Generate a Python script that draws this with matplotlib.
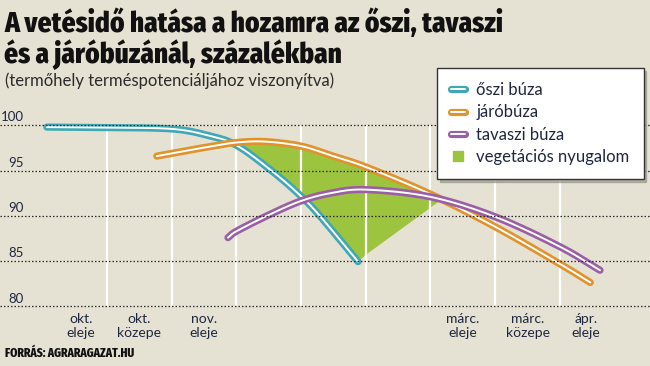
import numpy as np
import matplotlib.pyplot as plt
from matplotlib import font_manager
from matplotlib.lines import Line2D

# Adatok (x: a fehér rácsvonalak sorszáma, y: hozam %)
oszi_x = [-0.93, 0.0, 1.0, 1.55, 2.0, 2.55, 2.98, 3.29, 3.88]
oszi_y = [99.8, 99.75, 99.6, 98.9, 97.8, 94.95, 92.3, 90.0, 84.95]

jaro_x = [0.77, 1.0, 1.55, 2.0, 2.45, 3.0, 3.45, 4.0, 5.0, 6.0, 7.0, 7.47]
jaro_y = [96.6, 96.9, 97.6, 98.1, 98.2, 97.7, 96.7, 95.4, 92.4, 88.8, 84.7, 82.65]

tavaszi_x = [1.87, 2.0, 2.47, 2.98, 3.45, 4.0, 5.0, 6.0, 7.0, 7.62]
tavaszi_y = [87.6, 88.3, 90.0, 91.6, 92.5, 92.9, 92.1, 89.9, 86.6, 84.0]

nyugalom_csucs = (4.0, 85.7)

y_ticks = [80, 85, 90, 95, 100]
racs_x = [0, 1, 2, 3, 4, 5, 6, 7]
idopontok = ['okt.\neleje', 'okt.\nközepe', 'nov.\neleje',
             'márc.\neleje', 'márc.\nközepe', 'ápr.\neleje']
idopont_x = [-0.4, 0.5, 1.5, 5.5, 6.5, 7.4]

# Színek
hatter = '#e6e2d3'
c_oszi = '#3fa8b4'
c_jaro = '#e0922b'
c_tavaszi = '#9a5ea5'
c_zold = '#9cc43e'
szoveg = '#1f2740'

# keskeny, vastag betű a címhez (ha nincs, kisebb DejaVu)
elerheto = {f.name for f in font_manager.fontManager.ttflist}
if 'Fira Sans Extra Condensed' in elerheto:
    keskeny, cim_meret, forras_meret = 'Fira Sans Extra Condensed', 21.3, 9
else:
    keskeny, cim_meret, forras_meret = 'DejaVu Sans', 15.5, 6.5


def simit(xs, ys, n=24):
    # Catmull-Rom görbe a pontokon át
    pts = np.column_stack([xs, ys])
    p = np.vstack([2 * pts[0] - pts[1], pts, 2 * pts[-1] - pts[-2]])
    t = np.linspace(0, 1, n, endpoint=False)[:, None]
    out = []
    for i in range(1, len(p) - 2):
        p0, p1, p2, p3 = p[i - 1], p[i], p[i + 1], p[i + 2]
        out.append(0.5 * (2 * p1 + (-p0 + p2) * t
                          + (2 * p0 - 5 * p1 + 4 * p2 - p3) * t ** 2
                          + (-p0 + 3 * p1 - 3 * p2 + p3) * t ** 3))
    out.append(pts[-1:])
    s = np.vstack(out)
    return s[:, 0], s[:, 1]


def metszes(ax1, ay1, ax2, ay2, lo, hi):
    g = np.linspace(lo, hi, 400)
    d = np.interp(g, ax1, ay1) - np.interp(g, ax2, ay2)
    i = np.where(np.diff(np.sign(d)) != 0)[0][0]
    return g[i]


plt.rcParams['font.family'] = ['Lato', 'DejaVu Sans']

fig = plt.figure(figsize=(6.5, 3.66), dpi=100, facecolor=hatter)
ax = fig.add_axes([0, 0, 1, 1])
ax.set_facecolor(hatter)
ax.set_xlim(-1.654, 8.393)
ax.set_ylim(73.43, 113.83)
ax.axis('off')

ox, oy = simit(oszi_x, oszi_y)
jx, jy = simit(jaro_x, jaro_y)
tx, ty = simit(tavaszi_x, tavaszi_y)

# vegetációs nyugalom terület
x1 = metszes(ox, oy, jx, jy, 1.5, 2.6)
x2 = metszes(jx, jy, tx, ty, 4.5, 5.8)
m = (jx > x1) & (jx < x2)
felso = np.column_stack([np.r_[x1, jx[m], x2],
                         np.interp(np.r_[x1, jx[m], x2], jx, jy)])
mo = ox > x1
bal = np.column_stack([ox[mo], oy[mo]])[::-1]
poly = np.vstack([felso, [nyugalom_csucs], bal])
ax.fill(poly[:, 0], poly[:, 1], color=c_zold, lw=0, zorder=1)

ax.vlines(racs_x, 80, 100, color='white', lw=1.6, zorder=2)

for gx, gy, c in [(ox, oy, c_oszi), (jx, jy, c_jaro), (tx, ty, c_tavaszi)]:
    ax.plot(gx, gy, color=c, lw=5.2, solid_capstyle='round', zorder=3)
    ax.plot(gx, gy, color='white', lw=1.4, solid_capstyle='round', zorder=3)

for y in y_ticks:
    ax.axhline(y, color='#2a2a2a', lw=0.9, ls=(0, (1.2, 1.6)), zorder=4)
    ax.text(-1.283, y + 0.42, str(y), ha='right', va='baseline',
            fontsize=9.5, color=szoveg)

for x, lab in zip(idopont_x, idopontok):
    ax.text(x, 77.85, lab, ha='center', va='center', fontsize=10,
            color=szoveg, linespacing=1.2, multialignment='center')

# Cím
for sor, yb in [('A vetésidő hatása a hozamra az őszi, tavaszi', 32),
                ('és a járóbúzánál, százalékban', 63)]:
    fig.text(4 / 650, 1 - yb / 366, sor, fontsize=cim_meret,
             fontweight='heavy', color='#111111', va='baseline',
             family=[keskeny, 'DejaVu Sans'])
fig.text(5 / 650, 1 - 81 / 366, '(termőhely terméspotenciáljához viszonyítva)',
         fontsize=12, color='#2a2a2a', va='center')
fig.text(5 / 650, 1 - 353 / 366, 'FORRÁS: AGRARAGAZAT.HU',
         fontsize=forras_meret, fontweight='heavy', color='#111111',
         va='center', family=[keskeny, 'DejaVu Sans'])

# Jelmagyarázat
def kettos(c):
    return (Line2D([], [], color=c, lw=5.2, solid_capstyle='round'),
            Line2D([], [], color='white', lw=1.4, solid_capstyle='round'))


handles = [kettos(c_oszi), kettos(c_jaro), kettos(c_tavaszi),
           Line2D([], [], marker='s', color=c_zold, ls='none', markersize=7)]
labels = ['őszi búza', 'járóbúza', 'tavaszi búza', 'vegetációs nyugalom']
leg = fig.legend(handles, labels, loc='upper left',
                 bbox_to_anchor=(437 / 650, 1 - 68 / 366), borderaxespad=0,
                 fontsize=12, handlelength=0.8, handletextpad=0.7,
                 labelspacing=0.38, borderpad=0.85, fancybox=False,
                 framealpha=1, edgecolor='#333333', facecolor='white',
                 shadow={'color': '#9a978c', 'alpha': 0.7})
leg.get_frame().set_linewidth(1.0)
for t in leg.get_texts():
    t.set_color(szoveg)

fig.savefig('out.png', dpi=100, facecolor=hatter)
